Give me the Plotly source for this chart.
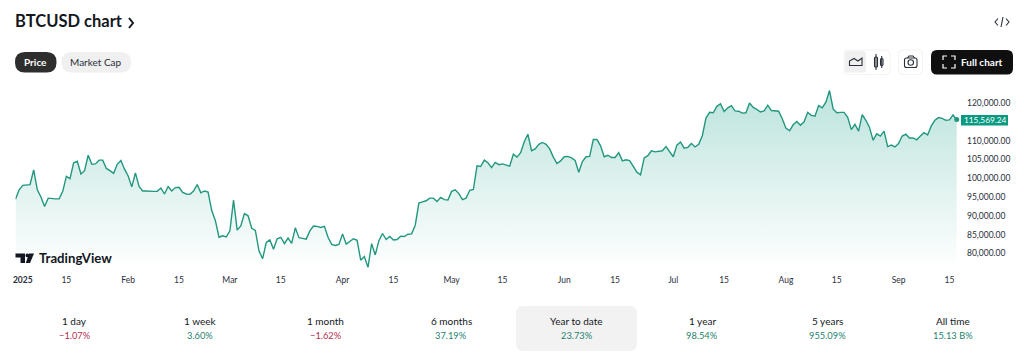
import pandas as pd
import plotly.graph_objects as go

W, H = 1024, 361
FONT = "Lato, sans-serif"
INK = "#131722"
GREEN = "#089981"
START_DATE = "2025-01-01"

# Daily BTCUSD price in thousands of USD, month by month
jan = [94.4,96.9,98.1,98.2,98.3,102.2,96.9,95.0,92.5,94.7,94.5,94.5,94.5,96.5,100.5,99.9,104.1,104.5,101.1,102.0,106.1,103.7,103.8,104.8,104.8,102.6,102.0,101.3,103.7,104.7,102.4]
feb = [100.6,97.7,101.4,97.8,96.6,96.6,96.5,96.5,96.5,97.4,95.8,97.8,96.6,97.5,97.6,96.2,95.8,95.7,96.6,98.3,96.1,96.6,96.3,91.4,88.7,84.3,84.7,84.4]
mar = [86.0,94.2,86.2,87.3,90.6,90.0,86.7,86.1,80.7,78.6,82.9,83.6,81.1,83.9,84.3,82.6,84.1,82.7,86.8,84.2,84.0,83.8,86.0,87.3,87.2,86.9,87.2,84.3,82.4,82.1,82.4]
apr = [85.2,82.5,83.1,83.9,83.5,78.2,79.2,76.3,82.6,79.6,83.4,85.3,83.7,84.5,83.6,83.7,84.6,84.5,85.1,85.2,87.5,93.4,93.7,94.0,94.7,94.7,93.8,94.9,94.3,94.2]
may = [96.5,96.9,95.9,94.3,94.7,96.8,97.0,103.3,103.1,104.8,104.1,102.8,104.2,103.6,103.8,103.5,103.2,106.4,105.6,106.8,109.7,111.7,107.3,107.8,109.0,109.5,109.0,107.8,105.6,103.9,104.6]
jun = [105.7,105.8,105.4,104.7,101.6,104.4,105.7,105.8,110.3,110.3,108.6,105.7,106.1,105.5,105.5,106.8,104.6,104.9,104.7,103.3,101.6,100.9,105.4,106.0,107.3,107.0,107.1,107.3,108.4,107.2]
jul = [105.7,108.8,109.6,108.0,108.2,109.2,108.3,109.0,111.3,116.0,117.5,117.4,119.1,119.8,117.7,118.7,119.3,117.9,117.8,117.3,117.4,120.0,118.8,118.3,117.6,117.9,119.4,118.0,117.9,117.8,115.8]
aug = [113.3,112.6,114.2,115.1,114.1,115.0,117.5,116.7,116.5,119.3,118.7,120.2,123.3,118.4,117.4,117.5,117.5,116.2,112.9,114.3,112.5,116.9,115.4,113.5,110.1,111.8,111.2,112.5,108.4,108.8,108.3]
sep = [109.2,111.2,111.7,110.7,110.7,110.2,111.2,112.1,111.5,113.9,115.4,116.1,115.9,115.4,115.5,116.8,115.56924]

y_tick_values = [80000,85000,90000,95000,100000,105000,110000,120000]
x_tick_dates = ["2025-01-03","2025-01-15","2025-02-01","2025-02-15","2025-03-01","2025-03-15","2025-04-01","2025-04-15","2025-05-01","2025-05-15","2025-06-01","2025-06-15","2025-07-01","2025-07-15","2025-08-01","2025-08-15","2025-09-01","2025-09-15"]
x_tick_labels = ["<b>2025</b>","15","Feb","15","Mar","15","Apr","15","May","15","Jun","15","Jul","15","Aug","15","Sep","15"]
period_names = ["1 day","1 week","1 month","6 months","Year to date","1 year","5 years","All time"]
period_changes = ["−1.07%","3.60%","−1.62%","37.19%","23.73%","98.54%","955.09%","15.13 B%"]

prices = [v * 1000 for v in jan + feb + mar + apr + may + jun + jul + aug + sep]
dates = pd.date_range(START_DATE, periods=len(prices), freq="D")

def X(p): return p / W
def Y(p): return 1 - p / H

def rr(x0, y0, x1, y1, r):
    a, b, c, d = X(x0), X(x1), Y(y0), Y(y1)
    rx, ry = r / W, r / H
    return (f"M{a+rx},{c} L{b-rx},{c} Q{b},{c} {b},{c-ry} L{b},{d+ry} Q{b},{d} {b-rx},{d} "
            f"L{a+rx},{d} Q{a},{d} {a},{d+ry} L{a},{c-ry} Q{a},{c} {a+rx},{c} Z")

def poly(pts, close=False):
    s = "M" + " L".join(f"{X(x)},{Y(y)}" for x, y in pts)
    return s + (" Z" if close else "")

shapes, anns = [], []

def box(x0, y0, x1, y1, r, fill="rgba(0,0,0,0)", line=None, w=1):
    shapes.append(dict(type="path", xref="paper", yref="paper", path=rr(x0, y0, x1, y1, r),
                       fillcolor=fill, line=dict(color=line or "rgba(0,0,0,0)", width=w), layer="above"))

def stroke(pts, color="#2a2e39", w=1.2, close=False, fill="rgba(0,0,0,0)"):
    shapes.append(dict(type="path", xref="paper", yref="paper", path=poly(pts, close),
                       fillcolor=fill, line=dict(color=color, width=w), layer="above"))

def text(x, y, s, size=10.5, color=INK, anchor="center", family=FONT):
    anns.append(dict(xref="paper", yref="paper", x=X(x), y=Y(y), text=s, showarrow=False,
                     xanchor=anchor, yanchor="middle", borderpad=0,
                     font=dict(size=size, color=color, family=family)))

# header
text(13.5, 21.5, "<b>BTCUSD chart</b>", size=16.5, anchor="left")
stroke([(129, 18), (133, 23), (129, 28)], color=INK, w=2)
stroke([(998, 18.5), (995, 22), (998, 25.5)], w=1.1)
stroke([(1003, 17), (1001, 27)], w=1.1)
stroke([(1006, 18.5), (1009, 22), (1006, 25.5)], w=1.1)

# pills
box(15, 52, 56.5, 72.5, 10, fill="#2e2e2e")
text(35.5, 62, "<b>Price</b>", size=10, color="#ffffff")
box(61.5, 52, 131, 72.5, 10, fill="#f0f0f0")
text(96, 62, "Market Cap", size=10, color="#2a2e39")

# chart-type buttons
box(844, 50, 890, 74.5, 4, line="#f3f3f3")
box(845, 51, 866, 72.5, 3, fill="#f0f0f0")
stroke([(849.5, 65.5), (849.5, 61), (854, 58.5), (858, 61), (862, 58), (862, 65.5)], w=1.1, close=True)
box(874.5, 57, 877.5, 67, 1, line="#2a2e39", w=1.1)
box(880.5, 58.5, 883, 65.5, 1, line="#2a2e39", w=1.1)
stroke([(876, 54), (876, 70)], w=1.1)
stroke([(881.7, 56), (881.7, 68)], w=1.1)
box(898.5, 50, 922.5, 74.5, 4, line="#f3f3f3")
box(904.5, 58, 917, 67.5, 2, line="#2a2e39", w=1.1)
stroke([(907.5, 58), (909, 56), (913, 56), (914.5, 58)], w=1.1)
shapes.append(dict(type="circle", xref="paper", yref="paper", x0=X(908), x1=X(913.5), y0=Y(59.7), y1=Y(65.2),
                   line=dict(color="#2a2e39", width=1.1), layer="above"))

# full chart button
box(931, 50, 1013, 74.5, 6, fill="#0f0f0f")
for pts in ([(943, 60), (943, 56), (947, 56)], [(951, 56), (955, 56), (955, 60)],
            [(955, 64), (955, 68), (951, 68)], [(947, 68), (943, 68), (943, 64)]):
    stroke(pts, color="#ffffff", w=1.2)
text(981.5, 62, "<b>Full chart</b>", size=10, color="#ffffff")

# TradingView logo
stroke([(15.5, 253.5), (25, 253.5), (25, 263), (20.5, 263), (20.5, 257.5), (15.5, 257.5)], color=INK, w=0, close=True, fill=INK)
stroke([(29, 253.5), (34, 253.5), (30, 263), (25.8, 263)], color=INK, w=0, close=True, fill=INK)
shapes.append(dict(type="circle", xref="paper", yref="paper", x0=X(25.5), x1=X(29.2), y0=Y(253.6), y1=Y(257.3),
                   fillcolor=INK, line=dict(width=0), layer="above"))
text(38, 258, "<b>TradingView</b>", size=13.2, anchor="left")

# period table
box(516, 306, 637, 351, 8, fill="#f2f2f2")
centres = [74.7, 200, 325.5, 451, 576.5, 702, 827, 952.7]
for cx, name, change in zip(centres, period_names, period_changes):
    text(cx, 320.7, name, size=10)
    text(cx, 335.7, change, size=9.3, color="#b2304e" if change.startswith("−") else "#1f7f70")

# last-price label
box(961, 115, 1008, 125.5, 0, fill=GREEN)
text(985, 120.2, f"{prices[-1]:,.2f}", size=8.3, color="#ffffff")

fig = go.Figure()
fig.add_trace(go.Scatter(
    x=dates, y=prices, mode="lines", fill="tozeroy",
    line=dict(color="#22977f", width=1.4),
    fillgradient=dict(type="vertical", start=max(prices), stop=75600,
                      colorscale=[[0, "rgba(8,153,129,0.27)"], [1, "rgba(8,153,129,0.0)"]]),
    hoverinfo="skip"))
fig.add_trace(go.Scatter(x=dates[-1:], y=prices[-1:], mode="markers",
                         marker=dict(color="#22977f", size=5), hoverinfo="skip"))

x_end = dates[0] + pd.Timedelta(days=(966 - 15.5) / 3.634)
fig.update_layout(
    width=W, height=H, margin=dict(l=0, r=0, t=0, b=0, pad=0, autoexpand=False), showlegend=False,
    paper_bgcolor="#ffffff", plot_bgcolor="#ffffff",
    font=dict(family=FONT, color="#2a2e39", size=8.5),
    shapes=shapes, annotations=anns,
    xaxis=dict(domain=[X(15.5), X(966)], range=[dates[0], x_end], showgrid=False, zeroline=False,
               tickmode="array", tickvals=x_tick_dates, ticktext=x_tick_labels, ticks="", showline=False,
               tickfont=dict(size=8.5, color="#2a2e39"), anchor="y", tickangle=0, ticklabelstandoff=3),
    yaxis=dict(domain=[Y(270), Y(80)], range=[75600, 126100], side="right", showgrid=False, zeroline=False,
               tickmode="array", tickvals=y_tick_values, tickformat=",.2f", ticks="", showline=False,
               tickfont=dict(size=8.5, color="#2a2e39"), anchor="x"),
)
fig.write_html("out.html", config={"displayModeBar": False},
               post_script="document.body.style.margin='0';document.body.style.overflow='hidden';")
